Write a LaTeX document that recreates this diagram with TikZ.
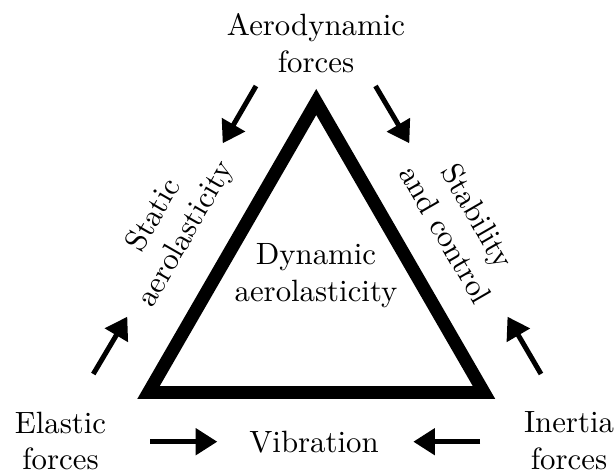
\documentclass[tikz,border=0pt]{standalone}
\usetikzlibrary{arrows.meta}
\begin{document}
\begin{tikzpicture}[x=0.3247pt,y=-0.3247pt,
  lbl/.style={align=center,inner sep=0pt,font=\fontsize{10}{12}\selectfont},
  force/.style={line width=1.62pt,-{Triangle[length=7pt,width=8.4pt]}}]
\useasboundingbox (0,0) rectangle (616,476);
% triangle vertices
\coordinate (T) at (316.25,102);
\coordinate (L) at (148.5,392.5);
\coordinate (R) at (484,392.5);
\draw[line width=4.22pt,line join=miter] (T) -- (L) -- (R) -- cycle;
% texts
\node[lbl] (aero) at (316,42.8) {Aerodynamic\\forces};
\node[lbl] (elas) at (60.5,441) {Elastic\\forces};
\node[lbl] (iner) at (569,441) {Inertia\\forces};
\node[lbl,anchor=base] (vib) at (314,452) {Vibration};
\node[lbl] (dyn) at (316,276) {Dynamic\\aerolasticity};
\node[lbl,rotate=60] (stat) at (170.5,225) {Static\\aerolasticity};
\node[lbl,rotate=-60] (stab) at (462,225) {Stability\\and control};
% arrow end points
\coordinate (a1s) at (256,86);   \coordinate (a1e) at (222.7,143.3);
\coordinate (a2s) at (375.5,86); \coordinate (a2e) at (409.3,143.3);
\coordinate (a3s) at (93.3,374); \coordinate (a3e) at (127.3,316.7);
\coordinate (a4s) at (541,374);  \coordinate (a4e) at (507.5,316.7);
\coordinate (a5s) at (150,441.7); \coordinate (a5e) at (217.3,441.7);
\coordinate (a6s) at (480,441.7); \coordinate (a6e) at (413.3,441.7);
\draw[force] (a1s) -- (a1e);
\draw[force] (a2s) -- (a2e);
\draw[force] (a3s) -- (a3e);
\draw[force] (a4s) -- (a4e);
\draw[force] (a5s) -- (a5e);
\draw[force] (a6s) -- (a6e);
\end{tikzpicture}
\end{document}
